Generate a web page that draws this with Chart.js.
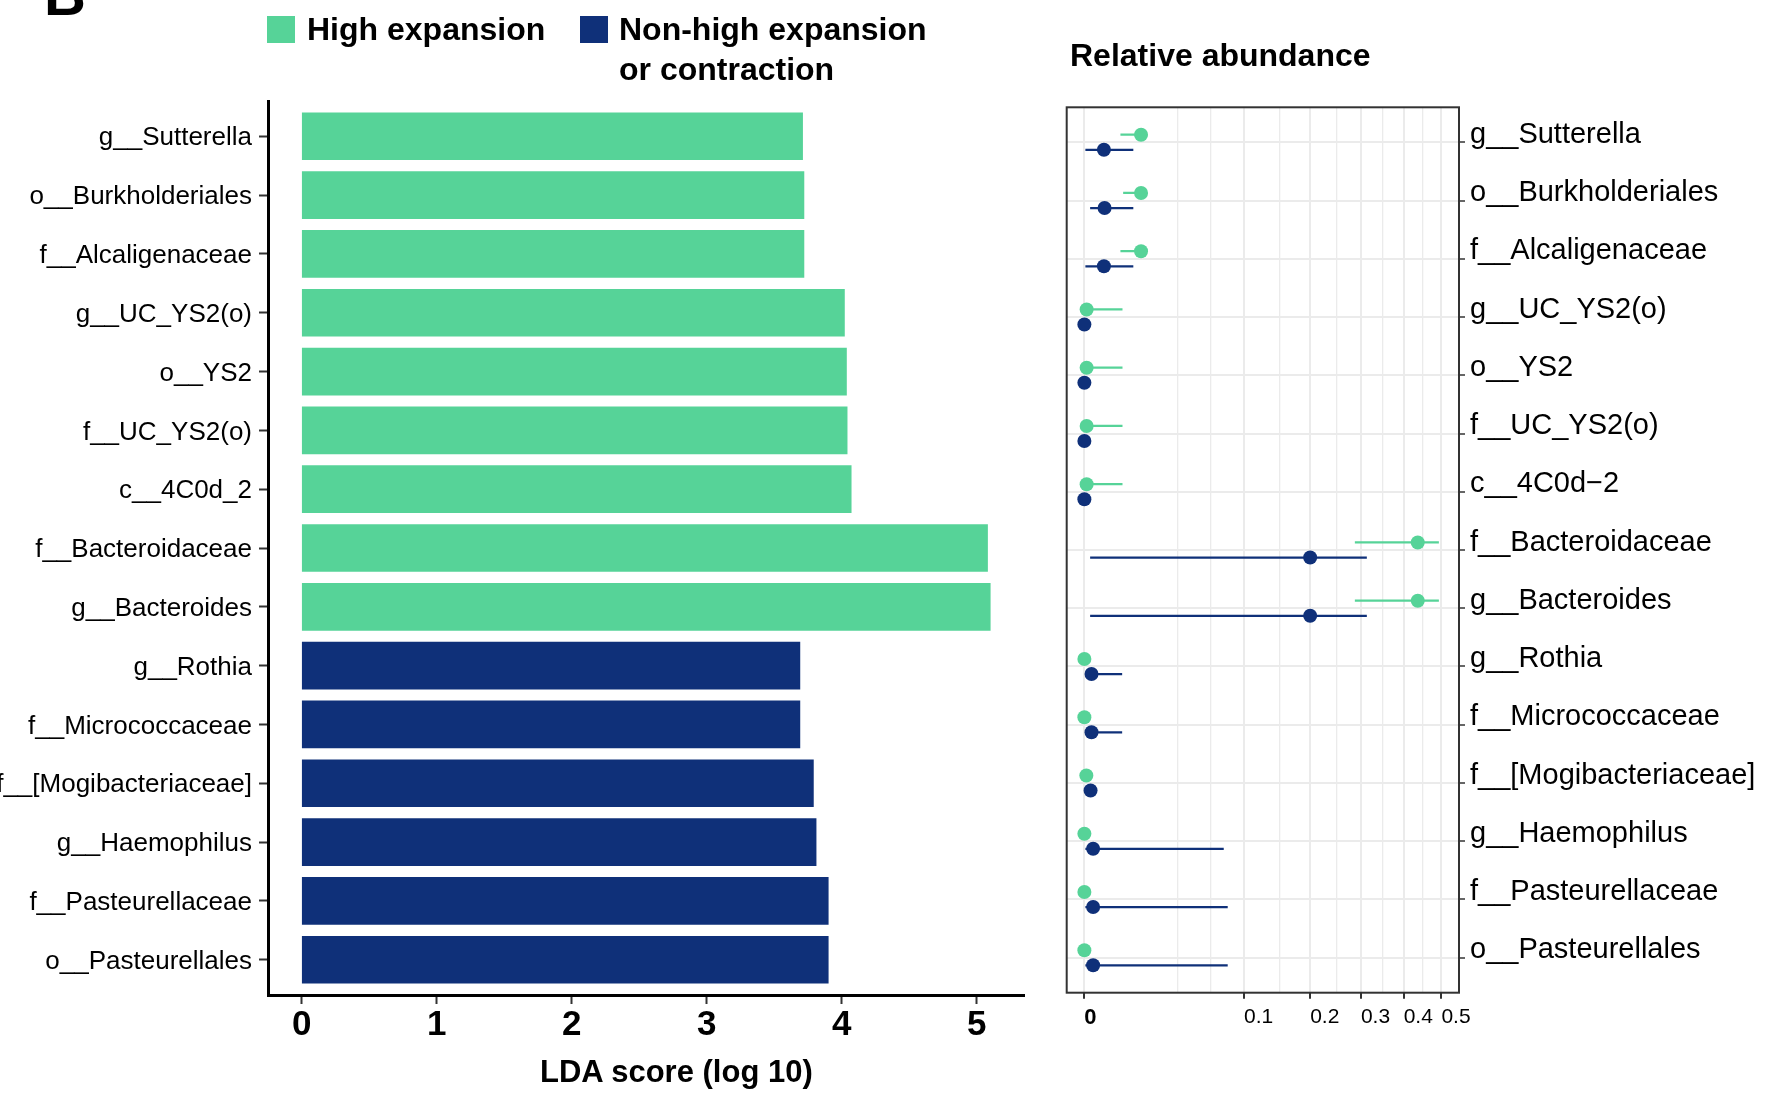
<!DOCTYPE html>
<html lang="en">
<head>
<meta charset="utf-8">
<title>LDA score and relative abundance</title>
<script src="https://cdn.jsdelivr.net/npm/chart.js@4.4.1/dist/chart.umd.min.js"></script>
<style>
    html, body { margin: 0; padding: 0; background: #fff; }
    #page { position: relative; width: 1766px; height: 1100px; overflow: hidden;
            font-family: "Liberation Sans", Arial, Helvetica, sans-serif; color: #000; }
    .box { position: absolute; top: 0; }
    .lbl { position: absolute; white-space: nowrap; line-height: 1; font-weight: bold; }
    .key { position: absolute; width: 28px; height: 27px; }
</style>
</head>
<body>
<div id="page">
    <div class="box" style="left:0;"><canvas id="ldaChart" width="1045" height="1100"></canvas></div>
    <div class="box" style="left:1045px;"><canvas id="abundanceChart" width="721" height="1100"></canvas></div>

    <div class="lbl" style="left:44px; top:-34px; font-size:58px;">B</div>
    <div class="key" style="left:267px; top:16px; background:#56d398;"></div>
    <div class="lbl" style="left:307px; top:13px; font-size:32px;">High expansion</div>
    <div class="key" style="left:580px; top:16px; background:#0f3079;"></div>
    <div class="lbl" style="left:619px; top:13px; font-size:32px;">Non-high expansion</div>
    <div class="lbl" style="left:619px; top:53px; font-size:32px;">or contraction</div>
    <div class="lbl" style="left:1070px; top:39px; font-size:32px;">Relative abundance</div>
    <div class="lbl" style="left:540px; top:1056px; font-size:31px;">LDA score (log 10)</div>
</div>

<script>
"use strict";

// taxa, top to bottom
const taxaLda = ['g__Sutterella', 'o__Burkholderiales', 'f__Alcaligenaceae', 'g__UC_YS2(o)', 'o__YS2',
    'f__UC_YS2(o)', 'c__4C0d_2', 'f__Bacteroidaceae', 'g__Bacteroides', 'g__Rothia', 'f__Micrococcaceae',
    'f__[Mogibacteriaceae]', 'g__Haemophilus', 'f__Pasteurellaceae', 'o__Pasteurellales'];
const taxaAbundance = ['g__Sutterella', 'o__Burkholderiales', 'f__Alcaligenaceae', 'g__UC_YS2(o)', 'o__YS2',
    'f__UC_YS2(o)', 'c__4C0d\u22122', 'f__Bacteroidaceae', 'g__Bacteroides', 'g__Rothia', 'f__Micrococcaceae',
    'f__[Mogibacteriaceae]', 'g__Haemophilus', 'f__Pasteurellaceae', 'o__Pasteurellales'];
const groupOf = ['high', 'high', 'high', 'high', 'high', 'high', 'high', 'high', 'high',
    'other', 'other', 'other', 'other', 'other', 'other'];

const ldaScore = [3.71, 3.72, 3.72, 4.02, 4.035, 4.04, 4.07, 5.08, 5.10, 3.69, 3.69, 3.79, 3.81, 3.90, 3.90];

// relative abundance: mean and interval per group
const highMean  = [0.0126, 0.0126, 0.0126, 0.00002, 0.00002, 0.00002, 0.00002, 0.436, 0.436, 0, 0, 0.000015, 0, 0, 0];
const highLow   = [0.0051, 0.0059, 0.0051, 0, 0, 0, 0, 0.287, 0.287, 0, 0, 0, 0, 0, 0];
const highHigh  = [0.015, 0.015, 0.015, 0.0057, 0.0057, 0.0057, 0.0057, 0.493, 0.493, 0, 0, 0, 0, 0, 0];
const otherMean = [0.0015, 0.0016, 0.0015, 0, 0, 0, 0, 0.200, 0.200, 0.0002, 0.0002, 0.00015, 0.0003, 0.0003, 0.0003];
const otherLow  = [0, 0.00013, 0, 0, 0, 0, 0, 0.00013, 0.00013, 0, 0, 0, 0, 0, 0];
const otherHigh = [0.0094, 0.0094, 0.0094, 0, 0, 0, 0, 0.313, 0.313, 0.0056, 0.0056, 0.0002, 0.0762, 0.0806, 0.0806];

const ldaTicks = [0, 1, 2, 3, 4, 5];
const abundanceGrid = [0, 0.034, 0.063, 0.1, 0.15, 0.2, 0.25, 0.3, 0.35, 0.4, 0.45, 0.5];
const abundanceLabels = ['0', '', '', '0.1', '', '0.2', '', '0.3', '', '0.4', '', '0.5'];

const colors = { high: '#56d398', other: '#0f3079' };
const fontFamily = '"Liberation Sans", Arial, Helvetica, sans-serif';

const panelFrame = {
    id: 'panelFrame',
    afterDatasetsDraw(chart) {
        const { ctx, chartArea: a } = chart;
        ctx.save();
        ctx.strokeStyle = '#333';
        ctx.lineWidth = 2;
        ctx.strokeRect(a.left, a.top, a.right - a.left, a.bottom - a.top);
        ctx.restore();
    }
};

function createLdaChart() {
    new Chart(document.getElementById('ldaChart'), {
        type: 'bar',
        data: {
            datasets: [{
                data: ldaScore.map((v, i) => ({ x: v, y: i })),
                backgroundColor: groupOf.map(g => colors[g]),
                borderWidth: 0,
                barThickness: 47
            }]
        },
        options: {
            indexAxis: 'y',
            responsive: false,
            animation: false,
            layout: { padding: { left: 0, top: 101, right: 21, bottom: 0 } },
            plugins: { legend: { display: false }, tooltip: { enabled: false } },
            scales: {
                x: {
                    type: 'linear',
                    min: -0.25,
                    max: 5.35,
                    offset: false,
                    afterBuildTicks: s => { s.ticks = ldaTicks.map(v => ({ value: v })); },
                    afterFit: s => { s.height = 105; },
                    border: { color: '#000', width: 3 },
                    grid: { offset: false, drawOnChartArea: false, tickLength: 9, tickColor: '#333', tickWidth: 2 },
                    ticks: { color: '#000', padding: 0, maxRotation: 0, font: { family: fontFamily, size: 35, weight: 'bold' } }
                },
                y: {
                    type: 'linear',
                    min: -0.6,
                    max: 14.6,
                    reverse: true,
                    offset: false,
                    afterBuildTicks: s => { s.ticks = taxaLda.map((t, i) => ({ value: i })); },
                    afterFit: s => { s.width = 268; },
                    border: { color: '#000', width: 3 },
                    grid: { offset: false, drawOnChartArea: false, tickLength: 9, tickColor: '#333', tickWidth: 2 },
                    ticks: {
                        autoSkip: false,
                        color: '#000',
                        padding: 7,
                        labelOffset: 2,
                        callback: v => taxaLda[v],
                        font: { family: fontFamily, size: 26 }
                    }
                }
            }
        }
    });
}

function createAbundanceChart() {
    const toAxis = v => Math.sqrt(v);   // square-root scale
    const shift = 0.13;

    const pointSet = (means, dy, color) => ({
        type: 'scatter',
        data: means.map((v, i) => ({ x: toAxis(v), y: i + dy })),
        backgroundColor: color,
        borderWidth: 0,
        pointRadius: 7,
        pointHoverRadius: 7,
        order: 1
    });
    const rangeSet = (lows, highs, dy, color) => ({
        type: 'bar',
        data: lows.map((v, i) => ({ x: [toAxis(v), toAxis(highs[i])], y: i + dy })),
        backgroundColor: color,
        borderWidth: 0,
        grouped: false,
        maxBarThickness: 2.2,
        order: 2
    });

    new Chart(document.getElementById('abundanceChart'), {
        type: 'bar',
        data: {
            datasets: [
                rangeSet(highLow, highHigh, -shift, colors.high),
                rangeSet(otherLow, otherHigh, shift, colors.other),
                pointSet(highMean, -shift, colors.high),
                pointSet(otherMean, shift, colors.other)
            ]
        },
        options: {
            indexAxis: 'y',
            responsive: false,
            animation: false,
            layout: { padding: { left: 21.7, top: 107.3, right: 0, bottom: 0 } },
            plugins: { legend: { display: false }, tooltip: { enabled: false } },
            scales: {
                x: {
                    type: 'linear',
                    min: -0.035,
                    max: 0.742,
                    offset: false,
                    afterBuildTicks: s => { s.ticks = abundanceGrid.map(v => ({ value: toAxis(v) })); },
                    afterFit: s => { s.height = 107.3; },
                    border: { display: false },
                    grid: {
                        offset: false,
                        color: '#ebebeb',
                        lineWidth: c => abundanceLabels[c.index] ? 2 : 1.3,
                        tickLength: 6,
                        tickWidth: 2,
                        tickColor: c => abundanceLabels[c.index] ? '#333' : 'rgba(0,0,0,0)'
                    },
                    ticks: {
                        autoSkip: false,
                        maxRotation: 0,
                        align: 'start',
                        padding: 6,
                        color: '#000',
                        callback: (v, i) => abundanceLabels[i],
                        font: c => c.index === 0
                            ? { family: fontFamily, size: 22, weight: 'bold' }
                            : { family: fontFamily, size: 21 }
                    }
                },
                y: {
                    type: 'linear',
                    position: 'right',
                    min: -0.6,
                    max: 14.6,
                    reverse: true,
                    offset: false,
                    afterBuildTicks: s => { s.ticks = taxaAbundance.map((t, i) => ({ value: i })); },
                    afterFit: s => { s.width = 307; },
                    border: { display: false },
                    grid: { offset: false, color: '#ebebeb', lineWidth: 2, tickLength: 6, tickColor: '#333', tickWidth: 1.5 },
                    ticks: {
                        autoSkip: false,
                        color: '#000',
                        padding: 5,
                        labelOffset: -7.5,
                        callback: v => taxaAbundance[v],
                        font: { family: fontFamily, size: 29 }
                    }
                }
            }
        },
        plugins: [panelFrame]
    });
}

createLdaChart();
createAbundanceChart();
</script>
</body>
</html>
